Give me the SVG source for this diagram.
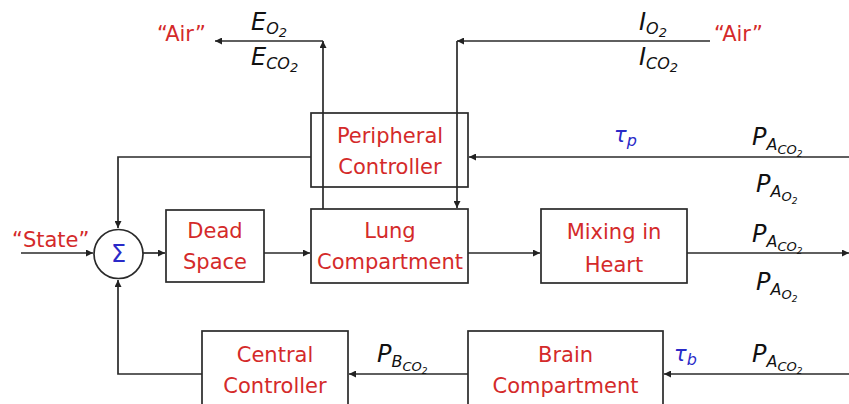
<svg xmlns="http://www.w3.org/2000/svg" width="849" height="404" viewBox="0 0 849 404">
<style>
  .box { fill: #ffffff; stroke: #2a2a2a; stroke-width: 1.7; }
  .ln { fill: none; stroke: #2a2a2a; stroke-width: 1.7; }
  .t { font-family: "DejaVu Sans", "Liberation Sans", sans-serif; font-size: 21px; fill: #d42a2a; text-anchor: middle; }
  .r { font-family: "DejaVu Sans", "Liberation Sans", sans-serif; font-size: 21px; fill: #d42a2a; }
  .m { font-family: "DejaVu Sans", "Liberation Sans", sans-serif; font-style: italic; font-size: 24px; fill: #111111; }
  .b { font-family: "DejaVu Sans", "Liberation Sans", sans-serif; font-style: italic; font-size: 21px; fill: #2a2ac8; }
  .s1 { font-size: 16px; }
  .s2 { font-size: 13px; }
  .s3 { font-size: 9px; }
</style>
<defs>
  <marker id="ah" markerUnits="userSpaceOnUse" markerWidth="8" markerHeight="7" refX="7" refY="3.5" orient="auto">
    <path d="M0,0 L7,3.5 L0,7 z" fill="#222222"/>
  </marker>
</defs>
<rect width="849" height="404" fill="#ffffff"/>

<g id="connectors">
  <line class="ln" x1="21" y1="253" x2="93" y2="253" marker-end="url(#ah)"/>
  <line class="ln" x1="143" y1="253" x2="165" y2="253" marker-end="url(#ah)"/>
  <line class="ln" x1="264" y1="253" x2="310" y2="253" marker-end="url(#ah)"/>
  <line class="ln" x1="468" y1="253" x2="540" y2="253" marker-end="url(#ah)"/>
  <line class="ln" x1="687" y1="253" x2="849" y2="253" marker-end="url(#ah)"/>
  <polyline class="ln" points="311,157 118,157 118,228" marker-end="url(#ah)"/>
  <line class="ln" x1="849" y1="157" x2="469" y2="157" marker-end="url(#ah)"/>
  <line class="ln" x1="323" y1="209" x2="323" y2="41" marker-end="url(#ah)"/>
  <line class="ln" x1="323" y1="41" x2="215" y2="41" marker-end="url(#ah)"/>
  <line class="ln" x1="710" y1="41" x2="457" y2="41" marker-end="url(#ah)"/>
  <line class="ln" x1="457" y1="41" x2="457" y2="208" marker-end="url(#ah)"/>
  <polyline class="ln" points="202,374 118,374 118,280" marker-end="url(#ah)"/>
  <line class="ln" x1="468" y1="374" x2="349" y2="374" marker-end="url(#ah)"/>
  <line class="ln" x1="849" y1="374" x2="664" y2="374" marker-end="url(#ah)"/>
</g>

<g id="sum">
  <circle cx="118.5" cy="254" r="24.5" fill="#ffffff" stroke="#2a2a2a" stroke-width="1.7"/>
  <text x="118.5" y="262" font-family="DejaVu Sans, sans-serif" font-size="24" fill="#2a2ac8" text-anchor="middle">Σ</text>
</g>

<g id="dead-space">
  <rect class="box" x="166" y="210" width="98" height="72"/>
  <text class="t" x="215" y="238">Dead</text>
  <text class="t" x="215" y="269">Space</text>
</g>

<g id="peripheral-controller">
  <rect class="box" x="311" y="113" width="157" height="74" style="fill:none"/>
  <text class="t" x="390" y="143">Peripheral</text>
  <text class="t" x="390" y="174">Controller</text>
</g>

<g id="lung-compartment">
  <rect class="box" x="311" y="209" width="157" height="74"/>
  <text class="t" x="390" y="238">Lung</text>
  <text class="t" x="390" y="269">Compartment</text>
</g>

<g id="mixing-heart">
  <rect class="box" x="541" y="209" width="146" height="74"/>
  <text class="t" x="614" y="239">Mixing in</text>
  <text class="t" x="614" y="272">Heart</text>
</g>

<g id="central-controller">
  <rect class="box" x="202" y="331" width="146" height="76"/>
  <text class="t" x="275" y="362">Central</text>
  <text class="t" x="275" y="393">Controller</text>
</g>

<g id="brain-compartment">
  <rect class="box" x="468" y="331" width="195" height="76"/>
  <text class="t" x="565.5" y="362">Brain</text>
  <text class="t" x="565.5" y="393">Compartment</text>
</g>

<g id="labels">
  <text class="r" x="157" y="41">“Air”</text>
  <text class="r" x="714" y="41">“Air”</text>
  <text class="r" x="12" y="247">“State”</text>

  <text class="m" x="251" y="30">E<tspan class="s1" dy="4">O</tspan><tspan class="s2" dy="3">2</tspan></text>
  <text class="m" x="251" y="65">E<tspan class="s1" dy="4">CO</tspan><tspan class="s2" dy="3">2</tspan></text>
  <text class="m" x="639" y="30">I<tspan class="s1" dy="4">O</tspan><tspan class="s2" dy="3">2</tspan></text>
  <text class="m" x="639" y="65">I<tspan class="s1" dy="4">CO</tspan><tspan class="s2" dy="3">2</tspan></text>

  <text class="m" x="752" y="145">P<tspan class="s1" dy="5">A</tspan><tspan class="s2" dy="4">CO</tspan><tspan class="s3" dy="3">2</tspan></text>
  <text class="m" x="756" y="192">P<tspan class="s1" dy="5">A</tspan><tspan class="s2" dy="4">O</tspan><tspan class="s3" dy="3">2</tspan></text>
  <text class="m" x="752" y="242">P<tspan class="s1" dy="5">A</tspan><tspan class="s2" dy="4">CO</tspan><tspan class="s3" dy="3">2</tspan></text>
  <text class="m" x="756" y="290">P<tspan class="s1" dy="5">A</tspan><tspan class="s2" dy="4">O</tspan><tspan class="s3" dy="3">2</tspan></text>
  <text class="m" x="752" y="362">P<tspan class="s1" dy="5">A</tspan><tspan class="s2" dy="4">CO</tspan><tspan class="s3" dy="3">2</tspan></text>
  <text class="m" x="377" y="362">P<tspan class="s1" dy="5">B</tspan><tspan class="s2" dy="4">CO</tspan><tspan class="s3" dy="3">2</tspan></text>

  <text class="b" x="614" y="142">τ<tspan class="s1" dy="4">p</tspan></text>
  <text class="b" x="674" y="361">τ<tspan class="s1" dy="4">b</tspan></text>
</g>
</svg>
